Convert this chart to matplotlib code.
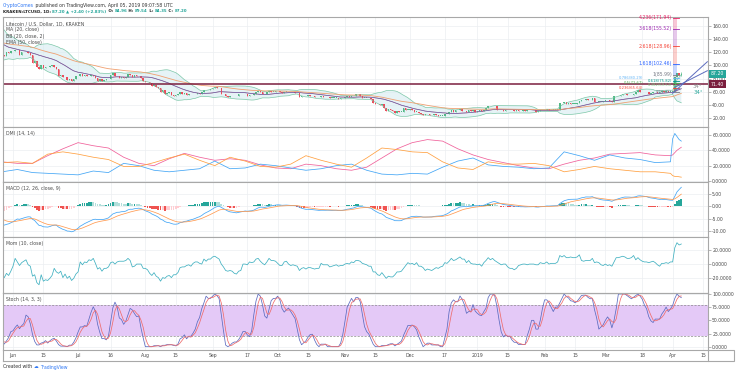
import numpy as np
import pandas as pd
import matplotlib
matplotlib.use("Agg")
import matplotlib.pyplot as plt
from matplotlib.transforms import blended_transform_factory

W, H = 736, 374

# KRAKEN LTC/USD daily closes, 2018-04-08 .. 2019-04-05
close_apr18 = [117, 113, 116, 121, 132, 130, 131, 137, 132, 130, 138, 146, 154, 151, 150, 152,
               163, 145, 150, 145, 152, 150, 147]
close_may18 = [141, 149, 163, 170, 176, 165, 156, 151, 156, 151, 136, 136, 141, 140, 135, 134,
               130, 133, 133, 135, 131, 124, 115, 121, 118, 118, 116, 114, 120, 119, 121]
close_jun18 = [121, 123, 124, 116, 120, 120, 120, 119, 116, 104, 106, 97, 95, 101, 96, 98,
               97, 99, 100, 98, 95, 84, 85, 82, 82, 78, 80, 76, 80, 84]
close_jul18 = [84, 87, 84, 85, 84, 84, 85, 84, 81, 77, 79, 77, 78, 79, 80, 86,
               88, 84, 84, 81, 83, 81, 83, 87, 85, 82, 85, 84, 84, 81, 77]
close_aug18 = [75, 75, 74, 69, 70, 68, 65, 60, 62, 57, 58, 59, 55, 54, 55, 56,
               60, 56, 58, 55, 57, 56, 56, 57, 58, 57, 60, 63, 62, 62, 64]
close_sep18 = [66, 67, 66, 65, 57, 56, 54, 52, 53, 54, 53, 53, 56, 56, 57, 56,
               53, 55, 55, 57, 60, 61, 60, 57, 56, 59, 61, 60, 60, 61]
close_oct18 = [61, 59, 58, 60, 60, 59, 59, 59, 58, 58, 52, 53, 53, 53, 55, 54,
               53, 52, 52, 52, 53, 52, 52, 52, 51, 51, 51, 51, 49, 50, 51]
close_nov18 = [52, 53, 52, 54, 53, 56, 56, 53, 51, 51, 51, 50, 49, 43, 42, 41,
               40, 41, 35, 31, 34, 32, 31, 28, 31, 30, 30, 35, 33, 33]
close_dec18 = [34, 33, 30, 30, 28, 27, 25, 26, 26, 25, 25, 26, 25, 24, 24, 24,
               27, 27, 30, 33, 30, 32, 33, 34, 31, 31, 29, 32, 31, 33, 30]
close_jan19 = [31, 33, 31, 33, 36, 38, 38, 39, 38, 33, 32, 32, 31, 33, 32, 32,
               32, 31, 32, 31, 31, 32, 31, 32, 32, 32, 32, 30, 31, 33, 32]
close_feb19 = [33, 34, 32, 33, 33, 33, 33, 43, 43, 44, 42, 43, 42, 42, 42, 43,
               46, 48, 47, 49, 47, 48, 50, 44, 45, 45, 45, 46]
close_mar19 = [47, 47, 46, 45, 53, 53, 54, 55, 56, 56, 55, 55, 55, 57, 59, 62,
               60, 59, 59, 59, 57, 58, 59, 59, 58, 59, 61, 60, 61, 60, 60]
close_apr19 = [61, 82, 89, 84.8, 87.2]

last_open, last_high, last_low = 84.96, 89.54, 84.35
hline_price = 71.40

# DMI (14, 14): weekly from 2018-05-27 to 2019-03-31, then daily to 2019-04-05
dmi_adx = [25, 23, 23, 33, 42, 50, 46, 43, 31, 23, 20, 29, 36, 31, 27, 29, 27, 21, 17, 16, 22, 20,
           16, 14, 18, 30, 42, 50, 54, 52, 42, 34, 28, 24, 20, 17, 16, 22, 27, 30, 35, 36, 37, 34, 33,
           34, 37, 40, 42, 44]
dmi_plus = [12, 15, 11, 10, 9, 8, 13, 11, 23, 20, 14, 12, 14, 16, 26, 16, 17, 22, 20, 17, 14, 16,
            20, 22, 14, 9, 8, 10, 9, 18, 26, 30, 21, 19, 18, 16, 17, 38, 33, 27, 34, 30, 28, 24, 25,
            55, 62, 58, 54, 52]
dmi_minus = [24, 25, 23, 35, 38, 35, 31, 28, 19, 19, 24, 30, 35, 27, 20, 31, 26, 19, 18, 22, 33, 27,
             22, 18, 30, 43, 41, 38, 37, 25, 17, 15, 25, 22, 22, 23, 20, 12, 15, 19, 16, 14, 12, 12, 10,
             7, 6, 6, 5.5, 5]

# trend-based fib extension drawn at the end
fib_ratio = ["0", "0.236", "0.382", "0.5", "0.618", "0.786", "1", "1.618", "2.618", "3.618", "4.236"]
fib_price = [59.35, 65.64, 69.53, 72.67, 75.82, 80.29, 85.99, 102.46, 128.96, 155.52, 171.94]
fib_color = ["#787b86", "#f44336", "#81c784", "#4caf50", "#009688", "#64b5f6", "#787b86",
             "#2962ff", "#f44336", "#9c27b0", "#e91e63"]
fib_dates = ["2019-04-01", "2019-04-03"]

# two trend lines (date, price anchors)
trend1 = (["2019-04-01", "2019-04-17"], [57.7, 105.5])
trend2 = (["2019-04-02", "2019-04-17"], [66.8, 91.9])

tick_dates = ["2018-06-01", "2018-06-15", "2018-07-01", "2018-07-16", "2018-08-01", "2018-08-15",
              "2018-09-01", "2018-09-17", "2018-10-01", "2018-10-15", "2018-11-01", "2018-11-15",
              "2018-12-01", "2018-12-17", "2019-01-01", "2019-01-15", "2019-02-01", "2019-02-15",
              "2019-03-01", "2019-03-18", "2019-04-01", "2019-04-15"]
tick_text = ["Jun", "15", "Jul", "16", "Aug", "15", "Sep", "17", "Oct", "15", "Nov", "15",
             "Dec", "17", "2019", "15", "Feb", "15", "Mar", "18", "Apr", "15"]

closes = np.array(close_apr18 + close_may18 + close_jun18 + close_jul18 + close_aug18 +
                  close_sep18 + close_oct18 + close_nov18 + close_dec18 + close_jan19 +
                  close_feb19 + close_mar19 + close_apr19, dtype=float)
dates = pd.date_range("2018-04-08", periods=len(closes), freq="D")
t0 = pd.Timestamp("2018-06-01")
def dnum(d):
    return (pd.to_datetime(d) - t0) / pd.Timedelta(days=1)
x = np.asarray(dnum(dates), dtype=float)

dmi_dates = pd.date_range("2018-05-27", "2019-03-31", freq="7D").append(
    pd.date_range("2019-04-01", "2019-04-05", freq="D"))
xd = np.asarray(dnum(dmi_dates), dtype=float)

opens = np.r_[closes[0], closes[:-1]]
opens[-1] = last_open
highs = np.maximum(opens, closes)
lows = np.minimum(opens, closes)
highs[-1], lows[-1] = last_high, last_low

# indicators from the closes
s = pd.Series(closes)
hi = pd.Series(highs)
lo = pd.Series(lows)
ma20 = s.rolling(20).mean()
sd20 = s.rolling(20).std(ddof=0)
bb_up, bb_lo = ma20 + 2 * sd20, ma20 - 2 * sd20
ema50 = s.ewm(span=50, adjust=False).mean()

macd = s.ewm(span=12, adjust=False).mean() - s.ewm(span=26, adjust=False).mean()
signal = macd.ewm(span=9, adjust=False).mean()
hist = macd - signal
mom = s - s.shift(10)

ll = lo.rolling(14).min()
hh = hi.rolling(14).max()
k = (100 * (s - ll) / (hh - ll)).rolling(3).mean()
d = k.rolling(3).mean()

# ---- figure
fig = plt.figure(figsize=(W / 100, H / 100), dpi=100)
fig.patch.set_facecolor("white")
X0, X1 = 3, 708
XL = (-4.6, 320.3)
GRID = "#eceef2"
TXT = "#4a4a4a"
FS = 3.3

def panel(top, bottom, ylim, yticks, fmt):
    ax = fig.add_axes([X0 / W, 1 - bottom / H, (X1 - X0) / W, (bottom - top) / H])
    ax.set_xlim(*XL)
    ax.set_ylim(*ylim)
    ax.yaxis.tick_right()
    ax.set_yticks(yticks)
    ax.set_yticklabels([fmt.format(v) for v in yticks])
    ax.set_xticks([dnum(t) for t in tick_dates])
    ax.tick_params(axis="y", labelsize=FS, colors="#999999", labelcolor=TXT, length=2, width=0.5, pad=1)
    ax.tick_params(axis="x", length=0, labelbottom=False)
    ax.grid(True, color=GRID, lw=0.5)
    ax.set_axisbelow(True)
    for sp in ax.spines.values():
        sp.set_color("#a8a8a8")
        sp.set_linewidth(0.8)
    return ax

def legend(ax, lines):
    for i, t in enumerate(lines):
        ax.text(0.0045, 1 - (6.5 + i * 6.4) / (ax.bbox.height), t, transform=ax.transAxes,
                fontsize=FS, color=TXT, va="center", ha="left")

# price panel
axp = panel(17, 127, (6.7, 173.2), [20, 40, 60, 80, 100, 120, 140, 160], "{:.2f}")
axp.fill_between(x, bb_lo, bb_up, color="#d6ecf0", alpha=0.6, lw=0)
axp.plot(x, bb_up, color="#7cc7a8", lw=0.5)
axp.plot(x, bb_lo, color="#7cc7a8", lw=0.5)
axp.plot(x, ma20, color="#e57373", lw=0.45)
axp.plot(x, ma20, color="#3f51b5", lw=0.5, alpha=0.8)
axp.plot(x, ema50, color="#f0a070", lw=0.6)
axp.axhline(hline_price, color="#7b1e3e", lw=1.1)
upc, dnc = "#53b987", "#eb4d5c"
cc = np.where(closes >= opens, upc, dnc)
axp.vlines(x, lows, highs, color=cc, lw=0.5)
axp.bar(x, np.maximum(np.abs(closes - opens), 0.5), bottom=np.minimum(opens, closes),
        width=0.7, color=cc, lw=0)

# fib extension
fx0, fx1 = dnum(fib_dates[0]), dnum(fib_dates[1])
for i in range(len(fib_price)):
    if i > 0:
        axp.fill_between([fx0, fx1], fib_price[i - 1], fib_price[i], color=fib_color[i], alpha=0.25, lw=0)
    axp.plot([fx0, fx1 + 0.8], [fib_price[i], fib_price[i]], color=fib_color[i], lw=0.6)
for i in range(len(fib_price)):
    # crowded low levels alternate between two columns
    xo = fx0 - 0.4 if (i >= 6 or i % 2 == 0) else fx0 - 13.5
    fs = FS if i >= 6 else 2.7
    axp.text(xo, fib_price[i], f"{fib_ratio[i]}({fib_price[i]:.2f})", fontsize=fs,
             color=fib_color[i], ha="right", va="center")
for tl, col in [(trend1, "#5b6bbf"), (trend2, "#5b6bbf")]:
    axp.plot(dnum(tl[0]), tl[1], color=col, lw=0.7, clip_on=False)
axp.text(315.5, 67.5, "34°", fontsize=FS + 0.6, color="#8a8a8a", ha="center", va="center")
axp.text(316.0, 58.5, "34°", fontsize=FS + 0.6, color="#26a69a", ha="center", va="center")

tr_p = blended_transform_factory(axp.transAxes, axp.transData)
axp.text(1.004, closes[-1], f"{closes[-1]:.2f}", transform=tr_p, fontsize=FS, color="white",
         va="center", ha="left", bbox=dict(boxstyle="square,pad=0.35", fc="#26a69a", ec="none"))
axp.text(1.004, hline_price, f"{hline_price:.2f}", transform=tr_p, fontsize=FS, color="white",
         va="center", ha="left", bbox=dict(boxstyle="square,pad=0.35", fc="#7b1e3e", ec="none"))
legend(axp, ["Litecoin / U.S. Dollar, 1D, KRAKEN", "MA (20, close)", "BB (20, close, 2)", "EMA (50, close)"])

# DMI
axd = panel(127, 182, (-1.3, 70.4), [0, 20, 40, 60], "{:.4f}")
axd.plot(xd, dmi_adx, color="#f0609a", lw=0.55)
axd.plot(xd, dmi_plus, color="#42a5f5", lw=0.55)
axd.plot(xd, dmi_minus, color="#ffa040", lw=0.55)
legend(axd, ["DMI (14, 14)"])

# MACD
axm = panel(182, 237, (-12.5, 9.8), [-10, -5, 0, 5], "{:.2f}")
hv = hist.values
hc = []
for i in range(len(hv)):
    prev = hv[i - 1] if i > 0 else 0
    if hv[i] >= 0:
        hc.append("#26a69a" if hv[i] > prev else "#b2dfdb")
    else:
        hc.append("#ffcdd2" if hv[i] > prev else "#ef5350")
axm.bar(x, hv, width=0.8, color=hc, lw=0)
axm.plot(x, macd, color="#42a5f5", lw=0.55)
axm.plot(x, signal, color="#ff9a50", lw=0.55)
legend(axm, ["MACD (12, 26, close, 9)"])

# Momentum
axo = panel(237, 293, (-40.6, 38.0), [-20, 0, 20], "{:.4f}")
axo.plot(x, mom, color="#3fb0c0", lw=0.55)
legend(axo, ["Mom (10, close)"])

# Stochastic
axs = panel(293, 350, (-6.3, 101.9), [0, 25, 50, 75, 100], "{:.4f}")
axs.axhspan(20, 80, color="#e4c9f7", lw=0)
axs.axhline(80, color="#8a8a8a", lw=0.5, ls=(0, (3, 2)))
axs.axhline(20, color="#8a8a8a", lw=0.5, ls=(0, (3, 2)))
axs.plot(x, k, color="#5c6bc0", lw=0.55)
axs.plot(x, d, color="#ef6c6c", lw=0.55)
legend(axs, ["Stoch (14, 3, 3)"])
axs.set_xticklabels(tick_text)
axs.tick_params(axis="x", labelbottom=True, labelsize=FS, labelcolor=TXT, length=0, pad=2.5)

# bottom-right corner box
fig.add_artist(plt.Rectangle((X1 / W, 1 - 361 / H), (734 - X1) / W, 11 / H, transform=fig.transFigure,
                             fill=False, ec="#a8a8a8", lw=0.8))
fig.add_artist(plt.Line2D([X0 / W, X0 / W], [1 - 361 / H, 1 - 350 / H], transform=fig.transFigure,
                          color="#a8a8a8", lw=0.8))
fig.add_artist(plt.Line2D([X0 / W, X1 / W], [1 - 361 / H, 1 - 361 / H], transform=fig.transFigure,
                          color="#a8a8a8", lw=0.8))

# header and footer
hdr = fig.add_axes([0, 0, 1, 1])
hdr.axis("off")
hdr.set_zorder(-1)

def chain(parts, y, fs=FS, weight="normal"):
    prev = hdr.text(3 / W, 1 - y / H, parts[0][0], color=parts[0][1], fontsize=fs, va="center",
                    ha="left", fontweight=weight)
    for t, c in parts[1:]:
        prev = hdr.annotate(t, xy=(1, 0.5), xycoords=prev, color=c, fontsize=fs, va="center",
                            ha="left", fontweight=weight)
    return prev

green = "#26a69a"
chain([("CryptoComes", "#3179f5"),
       (" published on TradingView.com, April 05, 2019 09:07:58 UTC", "#333333")], 5)
chain([("KRAKEN:LTCUSD, 1D: ", "#222222"), ("87.20 ▲ +2.40 (+2.83%)", green),
       (" O: ", "#222222"), ("84.96", green), (" H: ", "#222222"), ("89.54", green),
       (" L: ", "#222222"), ("84.35", green), (" C: ", "#222222"), ("87.20", green)], 11.5, 2.85, "bold")
chain([("Created with ", "#333333"), ("☁ ", "#3179f5"), ("TradingView", "#3179f5")], 367)

fig.savefig("out.png", dpi=100, facecolor="white")
